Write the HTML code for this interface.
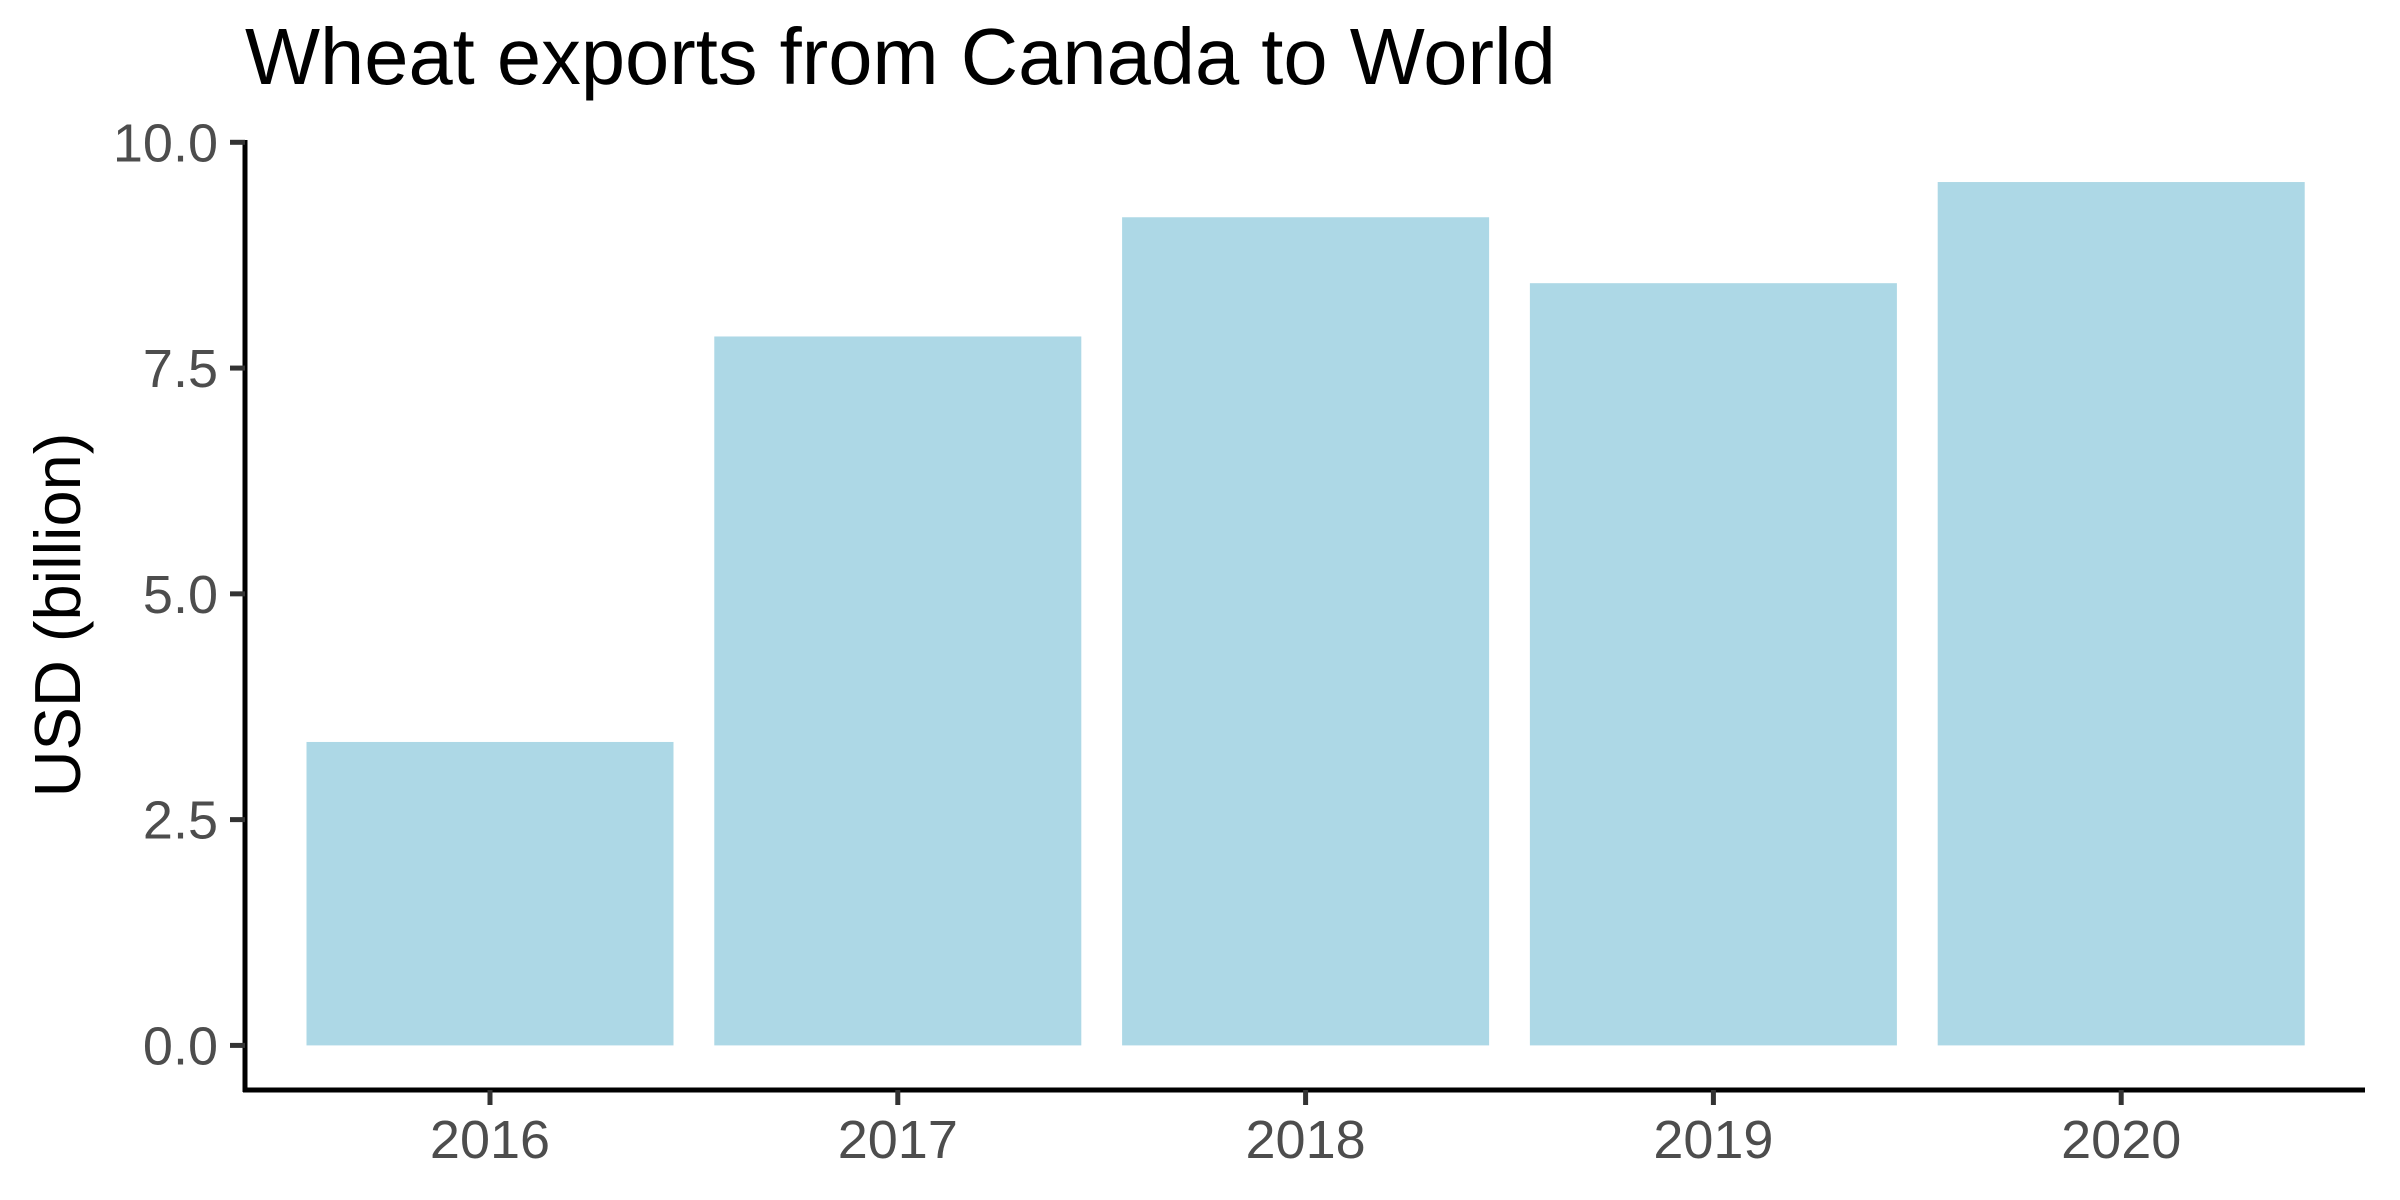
<!DOCTYPE html>
<html><head><meta charset="utf-8"><style>html,body{margin:0;padding:0;background:#fff}svg{display:block}text{font-family:"Liberation Sans",sans-serif}</style></head>
<body>
<svg id="chart" width="2400" height="1200" viewBox="0 0 2400 1200" xmlns="http://www.w3.org/2000/svg">
<text x="245" y="84" font-size="79.5" fill="#000">Wheat exports from Canada to World</text>
<text transform="translate(80,615) rotate(-90)" text-anchor="middle" font-size="65" fill="#000">USD (billion)</text>
<g id="bars"></g>
<g id="axes"></g>
</svg>
<script>
const categories = ["2016","2017","2018","2019","2020"];
const values = [3.36, 7.85, 9.17, 8.44, 9.56];
const yTicks = [0, 2.5, 5, 7.5, 10];
const yTickLabels = ["0.0","2.5","5.0","7.5","10.0"];

const NS = "http://www.w3.org/2000/svg";
const y0 = 1045.4, y10 = 142.3;
function yScale(v){ return y0 + (y10 - y0) * v / 10; }
const xFirst = 490, xStep = 407.8;
function xScale(i){ return xFirst + i * xStep; }
const bw = xStep * 0.9;

const bars = document.getElementById('bars');
values.forEach((v,i)=>{
  const r = document.createElementNS(NS,'rect');
  r.setAttribute('x', xScale(i) - bw/2);
  r.setAttribute('y', yScale(v));
  r.setAttribute('width', bw);
  r.setAttribute('height', yScale(0) - yScale(v));
  r.setAttribute('fill', '#add8e6');
  
  
  bars.appendChild(r);
});

const axes = document.getElementById('axes');
function line(x1,y1,x2,y2,name){
  const l = document.createElementNS(NS,'line');
  l.setAttribute('x1',x1);l.setAttribute('y1',y1);l.setAttribute('x2',x2);l.setAttribute('y2',y2);
  l.setAttribute('stroke', name.indexOf('tick')>=0 ? '#333' : '#000');
  l.setAttribute('stroke-width', 5);
  
  
  axes.appendChild(l);
}
function text(x,y,s,anchor,name){
  const t = document.createElementNS(NS,'text');
  t.setAttribute('x',x);t.setAttribute('y',y);
  t.setAttribute('text-anchor',anchor);
  t.setAttribute('font-size', 54);
  t.setAttribute('fill', '#4d4d4d');
  t.textContent = s;
  
  
  axes.appendChild(t);
}
line(245, 140, 245, 1092, 'y-axis-line');
line(243, 1090, 2365, 1090, 'x-axis-line');
yTicks.forEach((v,i)=>{
  const y = yScale(v);
  line(230, y, 245, y, 'y-tick');
  text(218, y + 19, yTickLabels[i], 'end', 'y-tick-label');
});
categories.forEach((c,i)=>{
  const x = xScale(i);
  line(x, 1090, x, 1105, 'x-tick');
  text(x, 1158, c, 'middle', 'x-tick-label');
});
</script>
</body></html>
